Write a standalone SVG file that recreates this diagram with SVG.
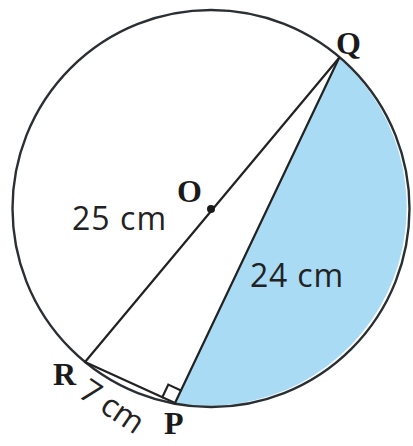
<svg xmlns="http://www.w3.org/2000/svg" width="413" height="446" viewBox="0 0 413 446">
  <style>
    .lbl { font-family: "Liberation Serif", "Times New Roman", serif; font-weight: bold; font-size: 32px; fill: #1a1a1a; }
    .len { font-family: "Open Sans", "DejaVu Sans", sans-serif; font-size: 32px; fill: #222; }
    .edge { fill: none; stroke: #222; stroke-width: 2.2; stroke-linecap: round; }
  </style>
  <rect width="413" height="446" fill="#ffffff"/>
  <g id="segment">
    <path d="M175 403 L339 58 A198.5 198.5 0 0 1 175 403 Z" fill="#aadbf5" stroke="none"/>
  </g>
  <g id="circle">
    <circle cx="211" cy="208.5" r="198.5" fill="none" stroke="#2a2f33" stroke-width="2.4"/>
  </g>
  <g id="connectors">
    <line class="edge" x1="339" y1="58" x2="85" y2="362"/>
    <line class="edge" x1="339" y1="58" x2="175" y2="403" stroke="#1f3440"/>
    <line class="edge" x1="85" y1="362" x2="175" y2="403" stroke-width="3.2" stroke="#333"/>
    <polyline class="edge" points="162.3,397.2 168.3,384.6 181,390.4" stroke-width="2"/>
  </g>
  <g id="O">
    <circle cx="211" cy="209" r="4" fill="#1a1a1a"/>
    <text class="lbl" x="177" y="202">O</text>
  </g>
  <g id="Q">
    <text class="lbl" x="336" y="54">Q</text>
  </g>
  <g id="R">
    <text class="lbl" x="53" y="385">R</text>
  </g>
  <g id="P">
    <text class="lbl" x="164" y="434">P</text>
  </g>
  <g id="labels">
    <text class="len" x="72" y="230" textLength="94">25 cm</text>
    <text class="len" x="250" y="287" textLength="93" fill="#1c2f3a">24 cm</text>
    <text class="len" x="77" y="396" font-size="28" textLength="70" transform="rotate(34 77 396)">7 cm</text>
  </g>
</svg>
